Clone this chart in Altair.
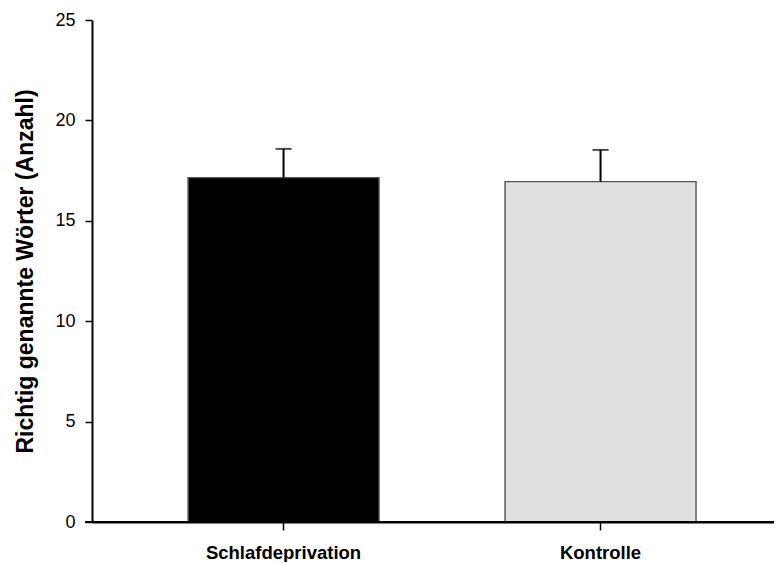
import altair as alt
import pandas as pd

groups = ["Schlafdeprivation", "Kontrolle"]
means = [17.15, 16.95]
sems = [1.43, 1.58]
fills = ["#000000", "#e0e0e0"]
y_ticks = [0, 5, 10, 15, 20, 25]

df = pd.DataFrame({"group": groups, "mean": means, "sem": sems, "fill": fills})
df["upper"] = df["mean"] + df["sem"]

W, H = 682, 502
FONT = "Liberation Sans"

x = alt.X("group:N", sort=groups, title=None,
          scale=alt.Scale(paddingInner=0.3975, paddingOuter=0.2745, align=0.552),
          axis=alt.Axis(labelAngle=0, labelFontWeight="bold", labelFontSize=18.5,
                        labelFont=FONT, labelColor="black", tickSize=8, labelPadding=13,
                        domainColor="black", tickColor="black", domainWidth=2, tickWidth=1.5))

base = alt.Chart(df)

bars = base.mark_bar(stroke="#555555", strokeWidth=1.4).encode(
    x=x,
    y=alt.Y("mean:Q", scale=alt.Scale(domain=[0, 25], nice=False),
            axis=alt.Axis(values=y_ticks, title="Richtig genannte Wörter (Anzahl)",
                          titleFontSize=23, titleFont=FONT, titleFontWeight="bold",
                          titleColor="black", titlePadding=17,
                          labelFontSize=18, labelFont=FONT, labelColor="black",
                          labelPadding=10, tickSize=7, grid=False,
                          domainColor="black", tickColor="black", domainWidth=2, tickWidth=1.5)),
    fill=alt.Fill("fill:N", scale=None),
)

err = base.mark_rule(color="black", strokeWidth=2).encode(
    x=alt.X("group:N", sort=groups),
    y="mean:Q",
    y2="upper:Q",
)

cap = base.mark_tick(color="black", size=16, thickness=2).encode(
    x=alt.X("group:N", sort=groups),
    y="upper:Q",
)

axis_ext = alt.Chart(pd.DataFrame({"v": [0]})).mark_rule(color="black", strokeWidth=2).encode(
    x=alt.value(-7), x2=alt.value(W), y=alt.Y("v:Q")
)

chart = alt.layer(bars, err, cap, axis_ext).properties(
    width=W, height=H,
    autosize=alt.AutoSizeParams(type="none"),
    padding={"left": 84, "top": 12, "right": 0, "bottom": 40},
).configure_view(stroke=None).configure_axis(grid=False)

chart.save("out.html", embed_options={"renderer": "svg", "actions": False})
